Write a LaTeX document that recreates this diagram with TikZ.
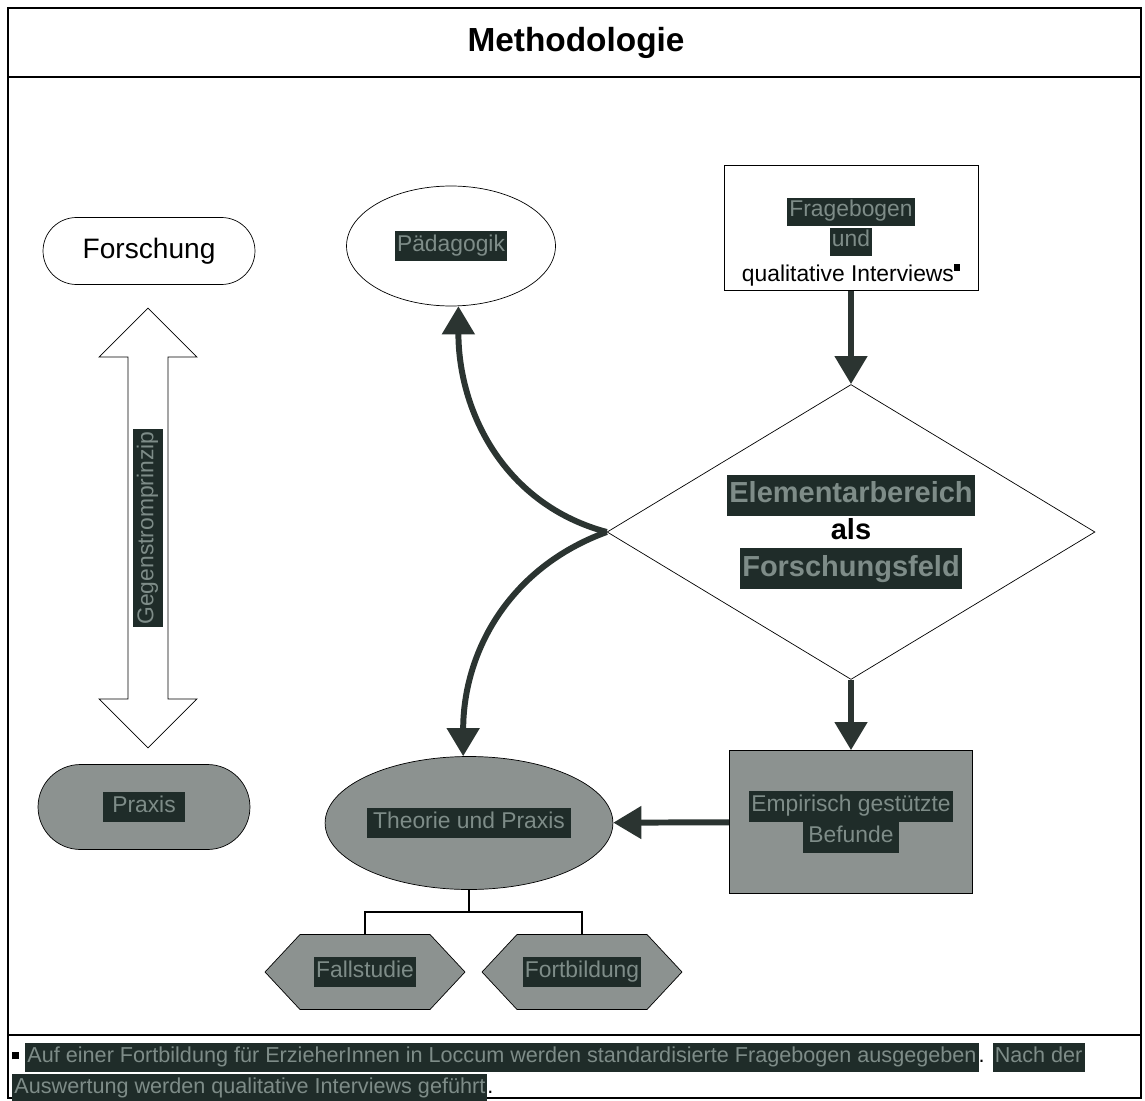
\documentclass[tikz,border=0pt]{standalone}
\usepackage{fontspec}
\setmainfont{Liberation Sans}
\usepackage{tikz}
\usetikzlibrary{
    positioning,
    arrows.meta,
    shapes.geometric,
    shapes.symbols,
    shapes.arrows
}

\definecolor{hlfill}{HTML}{1F2C29}
\definecolor{hltext}{HTML}{7E8C88}
\definecolor{shapegray}{HTML}{8C9290}
\definecolor{arrowdark}{HTML}{2B3431}

\newcommand{\hilite}[1]{{\setlength{\fboxsep}{1.2pt}\colorbox{hlfill}{\color{hltext}\strut#1}}}

\begin{document}
\begin{tikzpicture}[
    x=0.02cm, y=-0.02cm,
    every node/.style={font=\fontsize{13}{15}\selectfont},
    frame/.style={draw, line width=0.6pt},
    pill/.style={rectangle, rounded corners=0.67cm, draw, align=center, minimum width=4.24cm},
    oval/.style={ellipse, draw, align=center, inner sep=0pt},
    box/.style={rectangle, draw, align=center},
    hexa/.style={signal, signal to=west and east, signal pointer angle=94, draw, fill=shapegray, minimum width=4cm, minimum height=1.5cm, inner sep=0pt},
    bigarrow/.style={-{Triangle[length=16pt,width=18pt]}, line width=3.4pt, draw=arrowdark, color=arrowdark},
    thinline/.style={draw, line width=0.6pt}
]

\useasboundingbox (0,0) rectangle (1145,1101);

% ================= FRAME =================
\draw[frame] (8,8) rectangle (1141,1098);
\draw[frame] (8,77) -- (1141,77);
\draw[frame] (8,1035) -- (1141,1035);

\node[font=\bfseries\fontsize{19}{22}\selectfont] (title) at (576,43) {Methodologie};

% ================= LEFT =================
\node[pill, minimum height=1.34cm, font=\fontsize{16}{19}\selectfont] (forsch) at (149,251) {Forschung};
\node[double arrow, draw, rotate=90, minimum height=8.8cm, inner xsep=0pt, inner ysep=2.5pt,
      double arrow head extend=0.58cm] (gegen) at (148,528)
      {\hilite{Gegenstromprinzip}};
\node[pill, rounded corners=0.85cm, minimum height=1.7cm, fill=shapegray] (praxis) at (144,807)
      {\hilite{\,\,Praxis\,\,}};

% ================= TOP =================
\node[oval, minimum width=4.18cm, minimum height=2.4cm] (paed) at (451,246) {\hilite{Pädagogik}};
\node[box, minimum width=5.08cm, minimum height=2.5cm,
      label={[align=center, yshift=-8pt, font=\fontsize{13}{13.5}\selectfont]center:
        \hilite{Fragebogen}\\ \hilite{und}\\[4pt]
        qualitative Interviews\raisebox{0.9ex}{\rule{3.5pt}{3.5pt}}}] (frage) at (851,228) {};

% ================= CENTRE =================
\node[diamond, draw, aspect=1.65, minimum width=9.76cm, minimum height=5.9cm, inner sep=0pt,
      align=center, font=\bfseries\fontsize{16.5}{21}\selectfont] (dia) at (851,532)
      {\hilite{Elementarbereich}\\ als\\ \hilite{Forschungsfeld}};

\node[box, fill=shapegray, minimum width=4.86cm, minimum height=2.86cm] (befund) at (851,822)
      {\hilite{Empirisch gestützte}\\[-1pt] \hilite{\,Befunde\,}};
\node[oval, fill=shapegray, minimum width=4.94cm, minimum height=2.66cm] (theo) at (469,823)
      {\hilite{\,Theorie und Praxis\,}};

% ================= BOTTOM =================
\node[hexa] (hexl) at (365,972) {\hilite{Fallstudie}};
\node[hexa] (hexr) at (582,972) {\hilite{Fortbildung}};
\coordinate (split) at (469,912);

% ================= ARROWS =================
\draw[bigarrow] (frage) -- (dia);
\draw[bigarrow] (dia) -- (befund);
\draw[bigarrow] (befund) -- (theo);
\draw[bigarrow] (dia.west) to[out=165, in=-90] (paed.-83);
\draw[bigarrow] (dia.west) to[out=200, in=90] (theo.95);

\draw[thinline] (theo.south) -- (split);
\draw[thinline] (split) -| (hexl.north);
\draw[thinline] (split) -| (hexr.north);

% ================= FOOTNOTE =================
\node[anchor=north west, align=left, inner sep=0pt, font=\fontsize{12.3}{14}\selectfont] (note) at (12,1043)
      {\raisebox{0.3ex}{\rule{4pt}{4pt}} \hilite{Auf einer Fortbildung für ErzieherInnen in Loccum werden standardisierte Fragebogen ausgegeben}. \hilite{Nach der}\\
       \hilite{Auswertung werden qualitative Interviews geführt}.};

\end{tikzpicture}
\end{document}
